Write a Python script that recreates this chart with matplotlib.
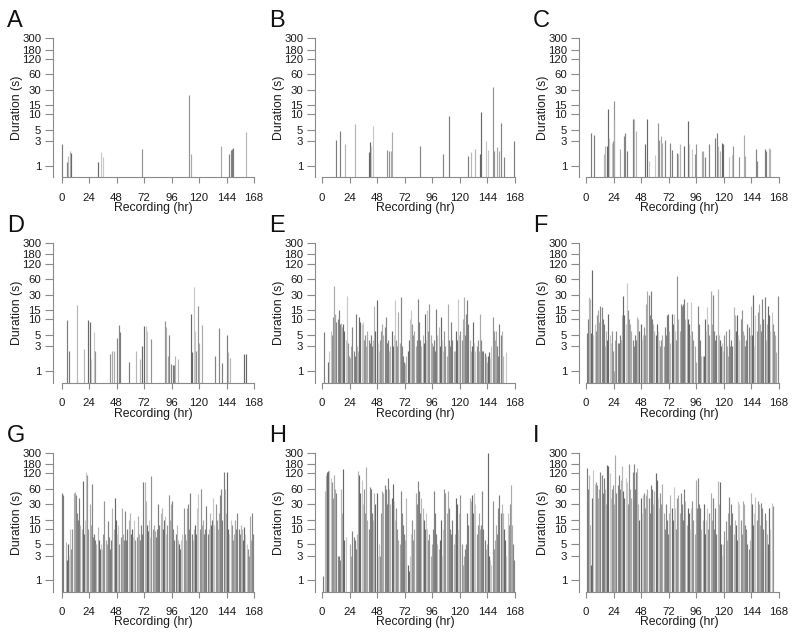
import numpy as np
import matplotlib
matplotlib.use('Agg')
import matplotlib.pyplot as plt
from matplotlib.ticker import NullLocator

plt.rcParams['font.family'] = ['Liberation Sans', 'DejaVu Sans']

#------------------------------------------------------------------------------
# sparse panels A-D: event onset (hr) and duration (s)
a_time = [0.6, 5.0, 6.0, 7.5, 8.7, 31.5, 34.6, 36.4, 70.0, 111.0, 112.6,
          139.0, 146.4, 147.5, 148.4, 149.3, 161.4]
a_dur = [2.6, 1.16, 1.57, 1.9, 1.74, 1.16, 1.8, 1.45, 2.1, 24, 1.7,
         2.45, 1.7, 1.97, 2.1, 2.2, 4.5]

b_time = [12.2, 15.4, 20.0, 28.4, 40.6, 41.7, 42.9, 44.0, 56.2, 58.5, 59.7,
          61.1, 85.7, 105.2, 110.7, 127.2, 130.0, 133.5, 137.6, 138.5, 142.8,
          144.3, 148.9, 149.8, 152.7, 154.4, 156.1, 158.5, 167.4]
b_dur = [3.2, 4.8, 2.66, 6.5, 1.8, 2.86, 2.36, 5.8, 1.97, 1.88, 1.88,
         4.5, 2.36, 1.69, 9.1, 1.55, 1.83, 2.1, 1.69, 11, 2.95,
         2.0, 34, 1.88, 2.25, 1.88, 6.8, 1.46, 3.05]

c_time = [4.6, 6.6, 15.8, 16.9, 18.4, 19.0, 20.1, 22.4, 23.3, 24.4, 24.7,
          29.3, 33.0, 34.2, 35.6, 40.8, 41.9, 43.7, 51.7, 52.8, 54.9, 59.7,
          62.3, 63.5, 64.9, 66.1, 68.4, 73.5, 75.0, 79.3, 80.4, 82.1, 85.0,
          88.7, 89.9, 92.2, 94.5, 95.6, 101.0, 102.2, 104.0, 107.1, 112.3,
          114.0, 114.9, 116.3, 118.0, 118.9, 124.9, 126.7, 127.8, 133.0,
          137.3, 138.1, 147.6, 148.8, 155.7, 157.1, 159.4, 160.5]
c_dur = [4.3, 4.0, 1.7, 2.4, 2.4, 12.7, 3.4, 2.7, 2.95, 18.5, 7.8,
         2.1, 3.7, 4.4, 1.9, 8.1, 8.1, 4.8, 2.66, 8.1, 1.25, 1.6,
         6.8, 3.2, 3.8, 2.7, 3.2, 2.8, 1.97, 1.75, 1.69, 2.66, 2.36,
         7.3, 2.66, 2.1, 1.69, 2.6, 1.88, 1.88, 1.46, 2.66, 3.4,
         4.3, 2.36, 1.88, 2.8, 2.66, 1.5, 1.6, 2.4, 1.5,
         3.9, 1.55, 2.1, 1.2, 2.1, 1.88, 2.2, 2.1]

d_time = [5.2, 6.4, 13.1, 19.7, 22.9, 24.7, 25.5, 28.7, 29.0, 42.1, 44.4,
          45.6, 48.2, 50.2, 51.4, 58.9, 65.0, 68.5, 70.5, 72.3, 73.4, 74.9,
          77.8, 90.0, 91.4, 92.6, 93.4, 95.5, 96.9, 98.1, 99.2, 101.3, 112.9,
          113.8, 115.5, 116.7, 117.5, 119.3, 120.4, 122.2, 134.1, 137.3,
          140.2, 144.5, 145.7, 147.4, 159.6, 161.3]
d_dur = [9.6, 2.5, 19.4, 2.7, 9.9, 8.8, 1.7, 5.7, 2.4, 2.1, 2.4,
         2.4, 4.4, 7.9, 5.7, 1.5, 2.4, 1.7, 3.1, 7.6, 7.4, 5.9,
         4.1, 9.2, 7.1, 2.0, 4.9, 1.4, 1.3, 1.3, 1.95, 1.7, 13,
         2.3, 42, 5.9, 2.4, 18.5, 3.5, 7.9, 1.95, 6.9,
         1.45, 4.9, 2.3, 1.8, 2.1, 2.1]

# dense panels E-I: longest duration (s) in each recording hour, 0 = none
e_dur = [0, 5.8, 0, 0, 0, 1.5, 2.5, 6, 5, 11, 45, 13,
         9, 10, 15, 8, 8.5, 7, 8, 6, 4, 28, 3.5, 2,
         1.8, 3, 7, 2.5, 2, 13, 3, 2.5, 11, 9, 8, 9,
         4, 5, 3, 6, 4, 3.5, 5, 3, 4, 18, 6, 24,
         3.5, 2.5, 4, 6, 8, 5, 7, 11, 3.5, 4, 2.5, 3,
         6, 3, 5, 24, 4, 3, 14, 3.5, 27, 3, 2, 1.5,
         1.4, 2, 2.5, 4, 10, 15, 8, 5, 6, 3, 4, 25,
         9, 4, 3, 5, 3.5, 13, 4, 15, 6, 20, 5, 3.5,
         3, 4, 2.5, 16, 5, 7, 3, 11, 4, 2.5, 6, 3,
         2, 20, 4, 3, 9, 4, 2.5, 2.5, 6, 4, 25, 5,
         6, 4, 10, 27, 5, 13, 24, 8, 4, 2.5, 3, 9,
         3.5, 2.5, 3, 4, 2.5, 13, 4, 2.5, 2.5, 2.2, 2, 1.5,
         2, 2.3, 1.8, 3, 11, 6, 4, 6, 3, 2, 8, 5,
         6, 2, 0, 0, 2.3, 0, 0, 0, 0, 0, 0, 0]

f_dur = [5.5, 10, 27, 25, 5.5, 90, 5, 8, 6, 12, 15, 9,
         18, 17, 10, 8, 3, 6, 4, 13, 5, 3.5, 6, 2.5,
         1, 4, 6, 3.5, 3.5, 5, 4, 12, 28, 12, 8, 50,
         15, 10, 8, 6, 4, 3, 5, 4, 11, 10, 6, 8,
         4, 5, 7, 5, 20, 35, 30, 12, 35, 10, 8, 6,
         5, 8, 6, 4, 3, 4, 5, 3, 7, 5, 12, 13,
         6, 3.5, 13, 8, 13, 6, 4, 70, 10, 6, 20, 18,
         20, 25, 10, 22, 10, 8, 5, 22, 6, 4, 3, 1.5,
         0, 18, 8, 4, 2, 2, 2, 10, 6, 17, 8, 5,
         35, 8, 30, 6, 4, 5, 38, 5, 4, 3, 3.5, 2.5,
         5, 6, 3, 2, 6.5, 3, 4, 3, 17, 12, 6, 12,
         5, 4, 10, 15, 6, 5, 3, 4, 8, 7, 5, 18,
         5, 30, 3, 12, 6, 14, 20, 8, 6, 25, 10, 27,
         4, 8, 18, 12, 6, 14, 8, 6, 5, 2.3, 0, 28]

g_dur = [50, 45, 0, 5.5, 2.5, 5, 3, 10, 4, 10, 50, 52,
         45, 20, 15, 40, 12, 10, 85, 8, 15, 130, 110, 10,
         30, 12, 75, 7, 8, 6, 5, 11, 6, 4, 5, 4,
         8, 35, 6, 5, 14, 7, 4, 6, 25, 10, 40, 15,
         8, 12, 5, 7, 25, 8, 6, 22, 6, 10, 15, 20,
         8, 10, 7, 15, 6, 7, 18, 8, 6, 12, 8, 80,
         82, 35, 12, 9, 15, 7, 105, 10, 12, 9, 7, 10,
         30, 12, 20, 25, 10, 15, 18, 8, 12, 45, 15, 30,
         35, 10, 6, 8, 12, 6, 5, 4, 6, 8, 25, 8,
         6, 25, 30, 10, 50, 8, 6, 10, 12, 8, 25, 48,
         10, 60, 12, 15, 8, 10, 28, 8, 10, 20, 12, 15,
         40, 12, 30, 15, 10, 20, 45, 60, 15, 130, 60, 20,
         130, 10, 8, 15, 12, 6, 8, 15, 10, 20, 10, 8,
         12, 10, 6, 11, 8, 5, 4, 3, 18, 6, 20, 8]

h_dur = [1.2, 0, 55, 110, 130, 135, 140, 100, 80, 40, 110, 60,
         50, 3, 3, 2.5, 60, 20, 145, 6, 7, 0, 0, 0,
         5, 3, 9, 7, 6, 4, 8, 135, 110, 50, 90, 30,
         60, 20, 160, 15, 10, 65, 60, 20, 15, 50, 30, 50,
         3, 5, 3, 20, 55, 50, 70, 60, 30, 100, 60, 30,
         40, 75, 35, 15, 25, 10, 6, 5, 55, 20, 12, 8,
         6, 40, 2, 1.5, 3, 8, 15, 6, 10, 50, 30, 85,
         55, 20, 40, 25, 15, 10, 20, 10, 6, 8, 3, 5,
         10, 55, 20, 8, 5, 4, 6, 15, 3, 10, 60, 50,
         20, 55, 25, 10, 8, 15, 5, 8, 40, 30, 10, 20,
         45, 5, 2, 3, 4, 5, 20, 12, 40, 35, 45, 20,
         50, 30, 8, 12, 20, 10, 12, 55, 10, 6, 4, 5,
         300, 3, 2.5, 2, 35, 4, 6, 12, 8, 25, 45, 20,
         30, 20, 10, 6, 3, 20, 12, 30, 70, 12, 5, 2.5]

i_dur = [150, 60, 110, 12, 2, 40, 140, 75, 80, 70, 40, 60,
         130, 110, 50, 100, 60, 30, 175, 170, 120, 40, 60, 70,
         30, 270, 50, 70, 110, 60, 90, 170, 55, 40, 100, 80,
         30, 180, 60, 40, 130, 180, 60, 130, 150, 30, 15, 40,
         20, 45, 50, 25, 45, 60, 40, 20, 70, 60, 30, 55,
         125, 90, 40, 25, 50, 30, 75, 20, 10, 30, 15, 8,
         20, 45, 25, 15, 65, 25, 10, 40, 45, 20, 50, 30,
         15, 60, 35, 12, 25, 20, 10, 25, 35, 15, 8, 90,
         25, 100, 30, 25, 10, 15, 30, 8, 15, 25, 10, 20,
         50, 15, 40, 10, 25, 8, 85, 30, 80, 5, 3, 5,
         9, 14, 6, 20, 42, 12, 30, 20, 8, 15, 12, 6,
         35, 30, 15, 8, 35, 30, 12, 10, 5, 4, 6, 50,
         30, 12, 20, 42, 15, 35, 30, 12, 32, 25, 10, 20,
         15, 8, 5, 25, 10, 32, 28, 0, 0, 0, 0, 0]

panel_letters = ['A', 'B', 'C', 'D', 'E', 'F', 'G', 'H', 'I']
yticks = [1, 3, 5, 10, 15, 30, 60, 120, 180, 300]
xticks = [0, 24, 48, 72, 96, 120, 144, 168]

#------------------------------------------------------------------------------
W, H = 800, 637
col_px = [(53, 61.5, 254), (315, 322, 515), (579, 586, 779)]   # y axis, x=0, x=168
row_px = [(38.5, 177.3), (243, 383), (453, 592)]                # y=300, baseline
ybase = 0.59
greys = ['#7c7c7c', '#b6b6b6', '#686868', '#c8c8c8', '#939393', '#aaaaaa', '#858585']
axcol = '#8a8a8a'

fig = plt.figure(figsize=(W / 100, H / 100), dpi=100)

def draw_panel(k, t, d):
    r, c = divmod(k, 3)
    yax, x0, x168 = col_px[c]
    top, base = row_px[r]
    ax = fig.add_axes([yax / W, 1 - base / H, (x168 + 2 - yax) / W, (base - top) / H])
    pxh = (x168 - x0) / 168.0
    ax.set_xlim(-(x0 - yax) / pxh, 168 + 2 / pxh)
    ax.set_yscale('log')
    ax.set_ylim(ybase, 300)
    ax.patch.set_visible(False)

    t = np.asarray(t, float)
    d = np.asarray(d, float)
    cols = np.array([greys[(j // 2) % len(greys)] for j in range(len(t))])
    keep = d > 0
    ax.vlines(t[keep], ybase, d[keep], colors=cols[keep], linewidth=0.85)

    for s in ['top', 'right']:
        ax.spines[s].set_visible(False)
    ax.spines['left'].set_bounds(ybase, 300)
    ax.spines['bottom'].set_bounds(0, 168)
    for s in ['left', 'bottom']:
        ax.spines[s].set_color(axcol)
        ax.spines[s].set_linewidth(0.8)

    ax.set_yticks(yticks)
    ax.set_yticklabels([str(v) for v in yticks])
    ax.yaxis.set_minor_locator(NullLocator())
    ax.set_xticks(xticks)
    ax.set_xticklabels([str(v) for v in xticks])
    ax.tick_params(axis='y', length=6, width=0.8, color=axcol, pad=2.5,
                   labelsize=8.2, labelcolor='#1a1a1a')
    ax.tick_params(axis='x', length=4, width=0.8, color=axcol, pad=7,
                   labelsize=8.2, labelcolor='#1a1a1a')

    fig.text((yax - 36) / W, 1 - (top + base) / 2 / H, 'Duration (s)', rotation=90,
             ha='center', va='center', fontsize=8.8, color='#1a1a1a')
    fig.text((yax + x168) / 2 / W, 1 - (base + 30.5) / H, 'Recording (hr)',
             ha='center', va='center', fontsize=8.8, color='#1a1a1a')
    fig.text((yax - 46) / W, 1 - (top - 11.5) / H, panel_letters[k],
             ha='left', va='baseline', fontsize=17, color='#111111')
    return ax

hours = np.arange(168) + 0.5
panel_data = [(a_time, a_dur), (b_time, b_dur), (c_time, c_dur), (d_time, d_dur),
              (hours, e_dur), (hours, f_dur), (hours, g_dur), (hours, h_dur),
              (hours, i_dur)]

for k, (t, d) in enumerate(panel_data):
    draw_panel(k, t, d)

fig.savefig('out.png', dpi=100)
